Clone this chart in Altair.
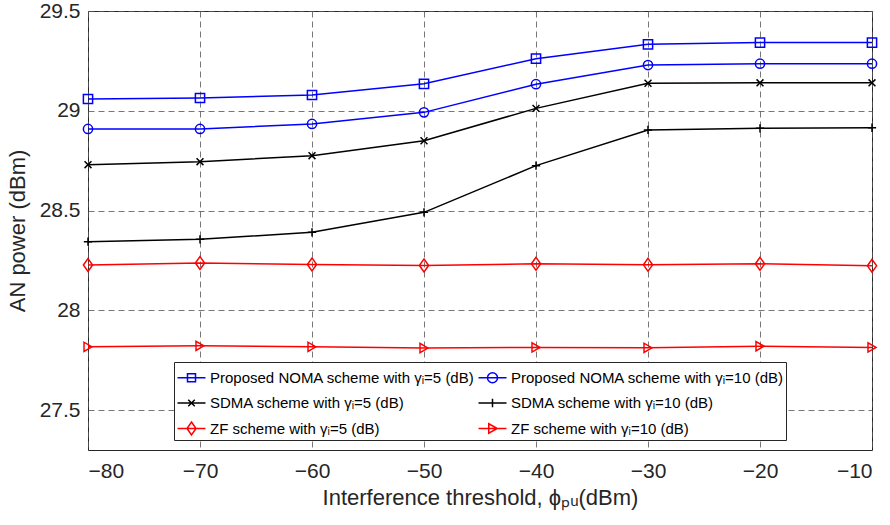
import altair as alt
import pandas as pd

x_vals = [-80, -70, -60, -50, -40, -30, -20, -10]

noma_5 = [29.059, 29.064, 29.079, 29.135, 29.261, 29.333, 29.342, 29.342]
noma_10 = [28.909, 28.909, 28.934, 28.992, 29.133, 29.229, 29.236, 29.236]
sdma_5 = [28.730, 28.745, 28.775, 28.850, 29.012, 29.138, 29.140, 29.140]
sdma_10 = [28.344, 28.356, 28.391, 28.491, 28.725, 28.904, 28.912, 28.915]
zf_5 = [28.227, 28.237, 28.230, 28.225, 28.233, 28.228, 28.233, 28.223]
zf_10 = [27.817, 27.822, 27.817, 27.811, 27.814, 27.812, 27.820, 27.814]

# legend fills column by column: first column = the "5 dB" series
series_names = [
    "Proposed NOMA scheme with γᵢ=5 (dB)",
    "SDMA scheme with γᵢ=5 (dB)",
    "ZF scheme with γᵢ=5 (dB)",
    "Proposed NOMA scheme with γᵢ=10 (dB)",
    "SDMA scheme with γᵢ=10 (dB)",
    "ZF scheme with γᵢ=10 (dB)",
]
series_values = [noma_5, sdma_5, zf_5, noma_10, sdma_10, zf_10]
series_colors = ["#0000FF", "#000000", "#FF0000", "#0000FF", "#000000", "#FF0000"]

x_shape = "M-0.75,-0.75L0.75,0.75M-0.75,0.75L0.75,-0.75"
plus_shape = "M-0.9,0L0.9,0M0,-0.9L0,0.9"
diamond_shape = "M0,-1.4L1,0L0,1.4L-1,0Z"
series_shapes = ["square", x_shape, diamond_shape, "circle", plus_shape, "triangle-right"]

# legend glyphs: short line with the marker in the middle
L = "M-1.12,0L1.12,0"
legend_glyphs = [
    L + "M-0.32,-0.32L0.32,-0.32L0.32,0.32L-0.32,0.32Z",
    L + "M-0.26,-0.26L0.26,0.26M-0.26,0.26L0.26,-0.26",
    L + "M0,-0.52L0.36,0L0,0.52L-0.36,0Z",
    L + "M-0.4,0A0.4,0.4 0 1,1 0.4,0A0.4,0.4 0 1,1 -0.4,0Z",
    L + "M0,-0.34L0,0.34",
    L + "M-0.3,-0.38L0.38,0L-0.3,0.38Z",
]

rows = []
for name, vals in zip(series_names, series_values):
    for x, v in zip(x_vals, vals):
        rows.append({"x": x, "y": v, "series": name})
df = pd.DataFrame(rows)

color_scale = alt.Scale(domain=series_names, range=series_colors)
shape_scale = alt.Scale(domain=series_names, range=series_shapes)
glyph_scale = alt.Scale(domain=series_names, range=legend_glyphs)

x_enc = alt.X("x:Q", scale=alt.Scale(domain=[-80, -10], nice=False),
              axis=alt.Axis(values=x_vals, title="Interference threshold, ϕₚᵤ(dBm)",
                            format="d"))
y_enc = alt.Y("y:Q", scale=alt.Scale(domain=[27.3, 29.5], nice=False, zero=False),
              axis=alt.Axis(values=[27.5, 28, 28.5, 29, 29.5], title="AN power (dBm)",
                            labelExpr="datum.value == 28 || datum.value == 29 ? format(datum.value, 'd') : format(datum.value, '.1f')"))

legend = alt.Legend(title=None, orient="none", legendX=86, legendY=351, columns=2)

lines = alt.Chart(df).mark_line(strokeWidth=1.5).encode(
    x=x_enc, y=y_enc,
    color=alt.Color("series:N", scale=color_scale, legend=None),
    detail="series:N",
)
points = alt.Chart(df).mark_point(filled=False, size=85, strokeWidth=1.5, opacity=1).encode(
    x=x_enc, y=y_enc,
    color=alt.Color("series:N", scale=color_scale, legend=None),
    shape=alt.Shape("series:N", scale=shape_scale, legend=None),
)
legend_layer = alt.Chart(df).transform_filter("false").mark_point(
    filled=False, strokeWidth=1.5, opacity=1
).encode(
    x=x_enc, y=y_enc,
    color=alt.Color("series:N", scale=color_scale, legend=legend),
    shape=alt.Shape("series:N", scale=glyph_scale, legend=legend),
)

chart = alt.layer(lines, points, legend_layer).resolve_scale(
    shape="independent", color="independent"
).properties(
    width=784, height=439,
    autosize=alt.AutoSizeParams(type="none"),
    padding={"left": 88, "top": 11, "right": 18, "bottom": 75},
).configure_view(
    stroke="#262626", strokeWidth=1
).configure_axis(
    grid=True, gridDash=[6, 4], gridColor="#555555", gridOpacity=0.8, gridWidth=1,
    domain=False, ticks=False,
    labelFont="Liberation Sans", titleFont="Liberation Sans",
    labelFontSize=21, titleFontSize=22, labelColor="#262626", titleColor="#262626",
    titleFontWeight="normal",
).configure_axisY(
    labelPadding=8, titlePadding=10,
).configure_axisX(
    labelPadding=10, titlePadding=6,
).configure_legend(
    fillColor="white", strokeColor="#262626", padding=2,
    labelFont="Liberation Sans", labelFontSize=15, labelColor="#000000",
    labelLimit=0, rowPadding=3.5, columnPadding=0, symbolSize=625,
    symbolStrokeWidth=1.5, symbolOffset=2, labelOffset=5, cornerRadius=0,
)

chart.save("out.html", embed_options={"renderer": "svg", "actions": False})
